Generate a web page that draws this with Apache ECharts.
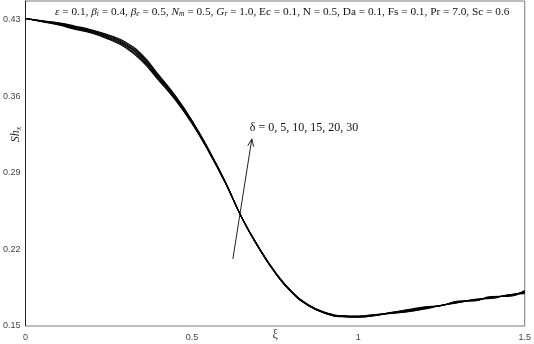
<!DOCTYPE html>
<html>
<head>
<meta charset="utf-8">
<script src="https://cdn.jsdelivr.net/npm/echarts@6/dist/echarts.min.js"></script>
<style>html,body{margin:0;padding:0;background:#fff}#c{width:534px;height:344px}</style>
</head>
<body>
<div id="c"></div>
<script>
const xi = [0,0.05,0.1,0.15,0.2,0.25,0.3,0.35,0.4,0.45,0.5,0.55,0.6,0.65,0.7,0.75,0.8,0.85,0.9,0.95,1.0,1.05,1.1,1.15,1.2,1.25,1.3,1.35,1.4,1.45,1.5];
const delta0  = [0.431,0.4280,0.4250,0.4210,0.4175,0.4120,0.4045,0.3920,0.3745,0.3565,0.3350,0.3095,0.2810,0.249,0.2225,0.1995,0.1815,0.1695,0.1625,0.1595,0.1590,0.1605,0.1615,0.1630,0.1655,0.1690,0.1712,0.1745,0.1752,0.1785,0.1795];
const delta5  = [0.431,0.4282,0.4254,0.4216,0.4181,0.4128,0.4055,0.3932,0.3755,0.3573,0.3356,0.3099,0.2812,0.249,0.2223,0.1993,0.1813,0.1693,0.1623,0.1593,0.1588,0.1603,0.1617,0.1634,0.1659,0.1690,0.1715,0.1742,0.1756,0.1783,0.1801];
const delta10 = [0.431,0.4284,0.4258,0.4222,0.4187,0.4136,0.4065,0.3944,0.3765,0.3581,0.3362,0.3103,0.2814,0.249,0.2221,0.1991,0.1811,0.1691,0.1621,0.1591,0.1586,0.1601,0.1619,0.1638,0.1663,0.1689,0.1718,0.1739,0.1759,0.1780,0.1807];
const delta15 = [0.431,0.4286,0.4262,0.4228,0.4193,0.4144,0.4075,0.3956,0.3775,0.3589,0.3368,0.3107,0.2816,0.249,0.2219,0.1989,0.1809,0.1689,0.1619,0.1589,0.1584,0.1599,0.1621,0.1642,0.1667,0.1688,0.1721,0.1736,0.1763,0.1777,0.1813];
const delta20 = [0.431,0.4288,0.4266,0.4234,0.4199,0.4152,0.4085,0.3968,0.3785,0.3597,0.3374,0.3111,0.2818,0.249,0.2217,0.1987,0.1807,0.1687,0.1617,0.1587,0.1582,0.1597,0.1623,0.1646,0.1671,0.1687,0.1724,0.1733,0.1766,0.1774,0.1819];
const delta30 = [0.431,0.4290,0.4270,0.4240,0.4205,0.4160,0.4095,0.3980,0.3795,0.3605,0.3380,0.3115,0.2820,0.249,0.2215,0.1985,0.1805,0.1685,0.1615,0.1585,0.1580,0.1595,0.1625,0.1650,0.1675,0.1686,0.1727,0.1730,0.1770,0.1771,0.1825];
const seriesNames = ['δ = 0','δ = 5','δ = 10','δ = 15','δ = 20','δ = 30'];
const seriesValues = [delta0, delta5, delta10, delta15, delta20, delta30];
const xTicks = [0, 0.5, 1, 1.5];
const yTicks = [0.15, 0.22, 0.29, 0.36, 0.43];

const chart = echarts.init(document.getElementById('c'));
const serif = '"Liberation Serif", "Times New Roman", serif';
const sans = '"Liberation Sans", Arial, sans-serif';

function isTick(v, ticks){ return ticks.some(t => Math.abs(t - v) < 1e-6); }

chart.setOption({
  animation: false,
  backgroundColor: '#fff',
  grid: {left: 24, right: 7, top: 1, bottom: 18, show: true, borderColor: '#7a7a7a', borderWidth: 1},
  xAxis: {
    type: 'value', min: 0, max: 1.5, interval: 0.5,
    axisLine: {show: true, lineStyle: {color: '#bdbdbd', width: 1}},
    axisTick: {show: false}, splitLine: {show: false},
    axisLabel: {color: '#444', fontSize: 9, fontFamily: sans, margin: 7,
      formatter: v => isTick(v, xTicks) ? String(+v.toFixed(2)) : ''}
  },
  yAxis: {
    type: 'value', min: 0.15, max: 0.447, interval: 0.07,
    axisLine: {show: true, onZero: false, lineStyle: {color: '#222', width: 1}},
    axisTick: {show: false}, splitLine: {show: false},
    axisLabel: {color: '#444', fontSize: 9, fontFamily: sans, margin: 5,
      formatter: v => isTick(v, yTicks) ? v.toFixed(2) : ''}
  },
  series: seriesValues.map((vals, k) => ({
    name: seriesNames[k], type: 'line', smooth: true, symbol: 'none',
    lineStyle: {color: '#000', width: 1.1},
    data: xi.map((x, i) => [x, vals[i]])
  }))
});

// annotations positioned in data coordinates
const tail = chart.convertToPixel({gridIndex: 0}, [0.623, 0.2113]);
const head = chart.convertToPixel({gridIndex: 0}, [0.680, 0.321]);
const ang = Math.atan2(head[1] - tail[1], head[0] - tail[0]);
const hl = 8, ha = 0.38;
const h1 = [head[0] - hl * Math.cos(ang - ha), head[1] - hl * Math.sin(ang - ha)];
const h2 = [head[0] - hl * Math.cos(ang + ha), head[1] - hl * Math.sin(ang + ha)];
const xName = chart.convertToPixel({gridIndex: 0}, [0.75, 0.15]);
const yName = chart.convertToPixel({gridIndex: 0}, [0, 0.325]);

chart.setOption({
  graphic: [
    {type: 'line', shape: {x1: tail[0], y1: tail[1], x2: head[0], y2: head[1]}, style: {stroke: '#222', lineWidth: 1}},
    {type: 'polyline', shape: {points: [h1, head, h2]}, style: {stroke: '#222', lineWidth: 1, fill: null}},
    {type: 'text', x: head[0] - 2, y: head[1] - 11, style: {text: 'δ = 0, 5, 10, 15, 20, 30', font: '12px ' + serif, fill: '#111', verticalAlign: 'middle'}},
    {type: 'text', x: xName[0], y: xName[1] + 3, style: {text: 'ξ', font: '12px ' + serif, fill: '#333', align: 'center', verticalAlign: 'top'}},
    {type: 'text', x: yName[0] - 10, y: yName[1], rotation: Math.PI / 2,
      style: {text: '{i|Sh}{s|x}', align: 'center', verticalAlign: 'middle', fill: '#222',
        rich: {i: {font: 'italic 12px ' + serif, fill: '#222'}, s: {font: 'italic 8px ' + serif, fill: '#222', padding: [6, 0, 0, 0]}}}},
    {type: 'text', x: 55, y: 12,
      style: {
        text: '{i|ε}{n| = 0.1, }{i|β}{s|i}{n| = 0.4, }{i|β}{s|e}{n| = 0.5, }{i|N}{s|m}{n| = 0.5, }{i|G}{s|r}{n| = 1.0, Ec = 0.1, N = 0.5, Da = 0.1, Fs = 0.1, Pr = 7.0, Sc = 0.6}',
        verticalAlign: 'middle', fill: '#111',
        rich: {
          n: {font: '11.3px ' + serif, fill: '#111'},
          i: {font: 'italic 11.3px ' + serif, fill: '#111'},
          s: {font: 'italic 7.5px ' + serif, fill: '#111', padding: [5, 0, 0, 0]}
        }
      }}
  ]
});
</script>
</body>
</html>
